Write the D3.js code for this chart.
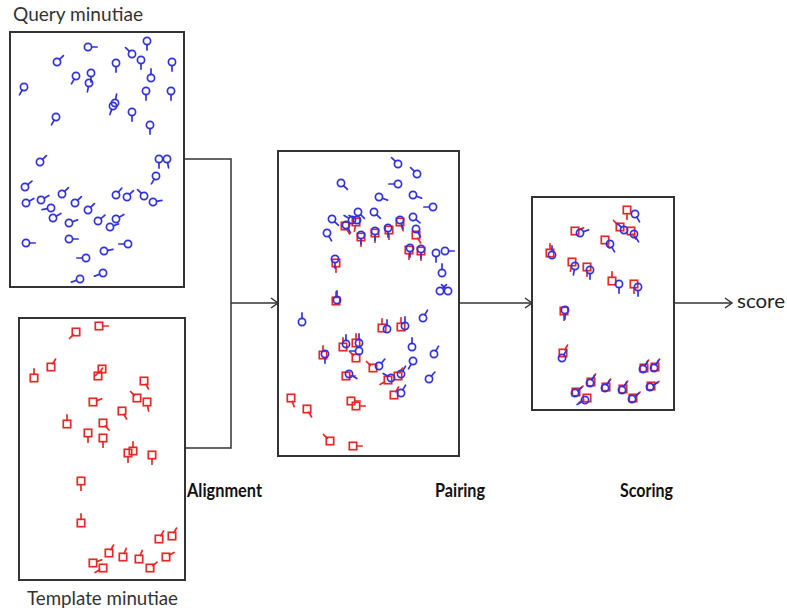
<!DOCTYPE html>
<html><head><meta charset="utf-8">
<script src="https://cdn.jsdelivr.net/npm/d3@7"></script>
<style>body{margin:0;background:#fff}</style>
</head><body>
<svg id="c" width="787" height="611"></svg>
<script>
// ---- Data: minutiae [x, y, angleDeg] in each panel's fingerprint frame ----
const queryMinutiae = [
 [137,9,90],[78,15,0],[122,22,-135],[47,30,-45],[131,28,90],[106,31,90],[162,30,90],
 [66,44,120],[81,41,90],[79,51,100],[141,46,-90],[14,55,120],[136,59,90],[161,59,90],
 [105,71,-80],[103,74,110],[122,80,90],[46,85,120],[140,93,90],[30,130,-45],[149,127,90],
 [157,127,80],[146,144,120],[15,155,-40],[52,162,-45],[106,163,-50],[117,165,-45],[134,164,-135],
 [16,171,-30],[31,168,-30],[65,171,-45],[143,170,-10],[41,176,170],[78,178,-45],[43,186,-30],
 [59,191,-20],[88,189,-40],[106,187,-30],[100,195,-20],[16,211,0],[59,207,0],[118,212,180],
 [94,219,-10],[76,226,180],[93,241,160],[70,247,160]
];
const templateMinutiae = [
 [57,14,135],[80,8,0],[32,49,-60],[15,60,-90],[83,51,135],[79,58,-60],[125,63,60],
 [118,80,-135],[128,84,80],[74,84,-20],[103,93,60],[48,106,-90],[84,105,50],[69,115,90],
 [84,120,90],[114,133,-90],[109,135,90],[133,137,90],[62,163,90],[62,205,-90],[140,221,-60],
 [153,218,-60],[90,235,-60],[104,239,-70],[120,241,-70],[147,239,-30],[74,245,-20],[84,250,150],
 [131,250,-40]
];
// Pairing panel: aligned query (blue) and template (red)
const alignedQuery = [
 [120,13,-135],[139,23,-135],[63,32,45],[120,33,180],[101,46,20],[135,44,20],[155,56,180],
 [80,61,45],[96,61,45],[54,68,45],[74,69,-150],[135,66,40],[49,82,60],[158,102,90],
 [167,100,0],[164,122,-90],[162,140,-45],[170,140,-135],[24,171,-90],[145,167,-60],
 [134,196,-90],[156,203,-60],[135,210,120],[151,228,-50],
 [68,74,60],[79,69,-150],[83,84,90],[97,80,90],[110,77,90],[122,69,70],[138,78,60],
 [132,97,90],[143,98,90],[57,108,90],[59,149,-90],[109,178,-90],[127,175,-90],[68,193,-90],
 [81,192,-90],[81,200,180],[47,203,90],[101,215,-50],[71,223,30],[113,227,-150],[123,223,-60],
 [123,242,-60]
];
const alignedTemplate = [
 [67,75,60],[78,71,100],[83,86,90],[97,82,90],[111,79,90],[122,71,70],[138,84,60],
 [131,99,90],[143,100,90],[58,112,90],[58,150,-90],[104,177,-90],[123,176,-90],[65,196,-90],
 [78,192,-90],[78,207,-135],[45,204,-90],[95,217,-135],[68,225,0],[110,229,150],[120,225,-60],
 [116,244,-60],[13,247,70],[29,258,60],[73,250,0],[78,255,0],[52,290,-135],[75,295,0]
];
// Scoring panel: matched pairs only
const matchedTemplate = [
 [95,13,90],[43,34,-20],[88,30,-135],[99,34,60],[73,43,60],[18,56,-90],[40,65,100],
 [55,70,90],[80,84,-90],[102,87,90],[32,114,90],[31,156,-60],[44,195,-40],[55,201,150],
 [59,185,-60],[74,190,-60],[91,192,-60],[101,201,-40],[112,171,-60],[123,170,-60],[119,189,-30]
];
const matchedQuery = [
 [103,17,60],[48,36,-20],[92,33,-135],[102,37,60],[78,47,60],[20,58,-90],[43,69,100],
 [58,73,90],[87,87,90],[106,90,90],[33,113,90],[30,161,-60],[43,196,-40],[53,203,150],
 [58,186,-60],[73,191,-60],[90,193,-60],[100,202,-40],[111,172,-60],[122,171,-60],[118,190,-30]
];
const panelTitles = ["Query minutiae", "Template minutiae"];
const stageLabels = ["Alignment", "Pairing", "Scoring"];
const outputLabel = "score";

// ---- Layout ----
const BLUE = "#3232dc", RED = "#e62828", INK = "#333";
const svg = d3.select("#c");
const panels = {
  query:    {x:10,  y:32,  w:174, h:255},
  template: {x:19,  y:318, w:166, h:262},
  pairing:  {x:278, y:151, w:181, h:305},
  scoring:  {x:532, y:197, w:142, h:213}
};
function scales(p){
  return {
    x: d3.scaleLinear().domain([0,p.w]).range([p.x,p.x+p.w]),
    y: d3.scaleLinear().domain([0,p.h]).range([p.y,p.y+p.h])
  };
}
Object.values(panels).forEach(p=>{
  svg.append("rect").attr("x",p.x).attr("y",p.y).attr("width",p.w).attr("height",p.h)
    .attr("fill","#fff").attr("stroke",INK).attr("stroke-width",2);
});

function drawMinutiae(panel, data, kind){
  const s = scales(panels[panel]);
  const color = kind==="circle" ? BLUE : RED;
  const r = kind==="circle" ? 3.6 : 3.7;
  const tail = 5.5;
  const g = svg.append("g").attr("fill","none").attr("stroke",color)
    .attr("stroke-width",1.7).attr("stroke-linecap","round");
  const m = g.selectAll("g").data(data).join("g")
    .attr("transform", d=>`translate(${s.x(d[0])},${s.y(d[1])})`);
  if(kind==="circle"){
    m.append("circle").attr("r",r);
  } else {
    m.append("rect").attr("x",-r).attr("y",-r).attr("width",2*r).attr("height",2*r);
  }
  m.append("line")
    .attr("x1",d=>r*Math.cos(d[2]*Math.PI/180)).attr("y1",d=>r*Math.sin(d[2]*Math.PI/180))
    .attr("x2",d=>(r+tail)*Math.cos(d[2]*Math.PI/180)).attr("y2",d=>(r+tail)*Math.sin(d[2]*Math.PI/180));
}
drawMinutiae("query", queryMinutiae, "circle");
drawMinutiae("template", templateMinutiae, "square");
drawMinutiae("pairing", alignedTemplate, "square");
drawMinutiae("pairing", alignedQuery, "circle");
drawMinutiae("scoring", matchedTemplate, "square");
drawMinutiae("scoring", matchedQuery, "circle");

// ---- Connectors ----
const P = panels;
const joinX = 231, midY = 303;
const qy = 159, ty = 448;
const lines = svg.append("g").attr("stroke",INK).attr("stroke-width",1.5).attr("fill","none");
lines.append("path").attr("d",
  `M${P.query.x+P.query.w},${qy}H${joinX}V${ty}H${P.template.x+P.template.w}`);
function arrow(x1,x2,y){
  lines.append("path").attr("d",`M${x1},${y}H${x2}`);
  lines.append("path").attr("d",`M${x2-7},${y-5}L${x2},${y}L${x2-7},${y+5}`);
}
arrow(joinX, P.pairing.x, midY);
arrow(P.pairing.x+P.pairing.w, P.scoring.x, midY);
arrow(P.scoring.x+P.scoring.w, 732, midY);

// ---- Text ----
const font = "Lato, 'Open Sans', sans-serif";
function label(t,x,y,size,weight,len,fill){
  svg.append("text").attr("x",x).attr("y",y).text(t)
    .attr("font-family",font).attr("font-size",size).attr("font-weight",weight)
    .attr("fill",fill).attr("textLength",len).attr("lengthAdjust","spacingAndGlyphs");
}
label(panelTitles[0], 13, 21, 19, 400, 130, "#333");
label(panelTitles[1], 27, 605, 20, 400, 151, "#333");
label(stageLabels[0], 187, 497, 18, 700, 75, "#111");
label(stageLabels[1], 435, 497, 18, 700, 50, "#111");
label(stageLabels[2], 620, 497, 18, 700, 53, "#111");
label(outputLabel, 737, 308, 19, 400, 48, "#222");
</script>
</body></html>
